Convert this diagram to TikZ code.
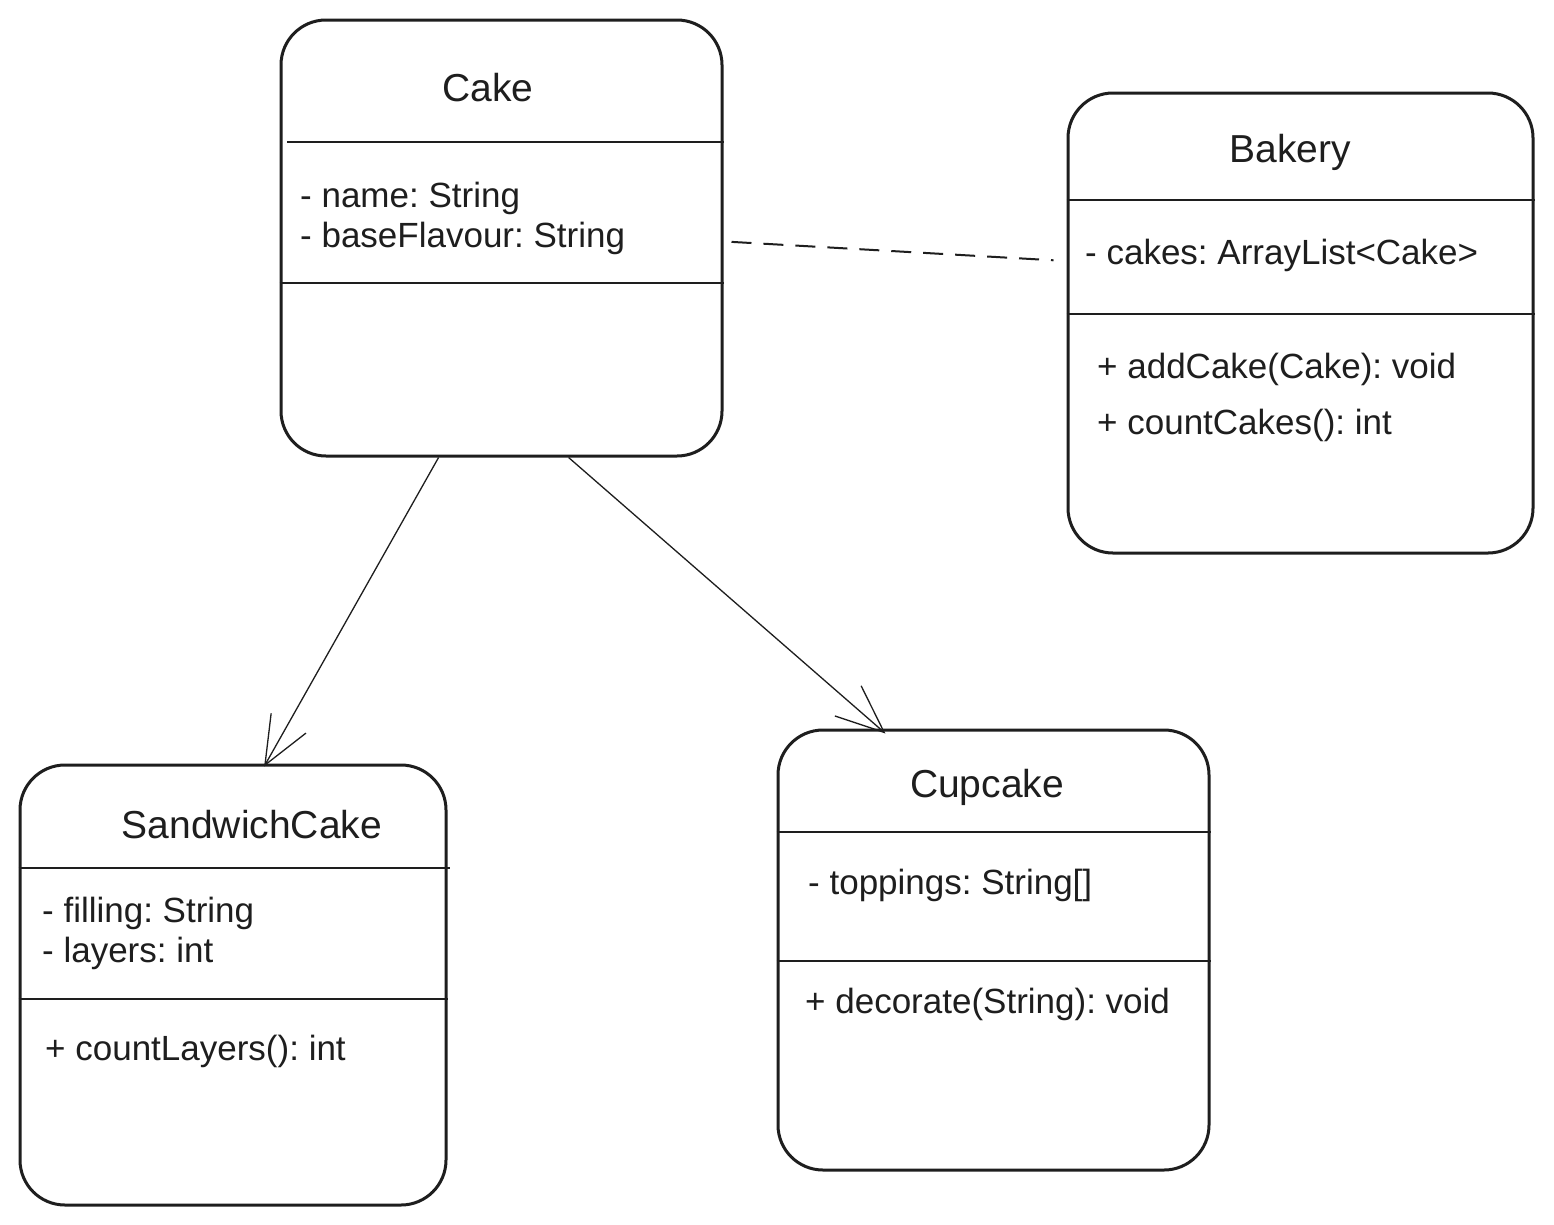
\documentclass[tikz,border=0pt]{standalone}
\usepackage{fontspec}
\setmainfont{Liberation Sans}
\usetikzlibrary{arrows.meta}
\definecolor{ink}{HTML}{1E1E1E}
\frenchspacing
\begin{document}
\begin{tikzpicture}[x=1pt,y=-1pt,
  classbox/.style={draw=ink, line width=3pt, rounded corners=45pt, inner sep=0pt, fill=white},
  divider/.style={draw=ink, line width=1.5pt},
  titletext/.style={anchor=base, inner sep=0pt, text=ink, font=\fontsize{39}{46}\selectfont},
  bodytext/.style={anchor=base west, inner sep=0pt, text=ink, font=\frenchspacing\fontsize{35}{40}\selectfont},
  inherit/.style={draw=ink, line width=1.3pt, -{Straight Barb[length=48pt,width=40pt,line width=1.3pt]}},
  assoc/.style={draw=ink, line width=2pt, dash pattern=on 20pt off 12pt}]
\useasboundingbox (0,0) rectangle (1554,1224);
\fill[white] (0,0) rectangle (1554,1224);

% Cake
\node[classbox, minimum width=441pt, minimum height=436pt] (cake) at (501.5,238) {};
\draw[divider] (287,142) -- (cake.east |- 0,142);
\draw[divider] (cake.west |- 0,283) -- (cake.east |- 0,283);
\node[titletext] (caketitle) at (488,101) {Cake};
\node[bodytext] (cakea1) at (300,207) {- name: String};
\node[bodytext] (cakea2) at (300,247) {- baseFlavour: String};

% Bakery
\node[classbox, minimum width=465pt, minimum height=460pt] (bakery) at (1300.5,323) {};
\draw[divider] (bakery.west |- 0,200) -- (bakery.east |- 0,200);
\draw[divider] (bakery.west |- 0,314) -- (bakery.east |- 0,314);
\node[titletext] (bakerytitle) at (1290,162) {Bakery};
\node[bodytext] (bakerya1) at (1085,264) {- cakes: ArrayList<Cake>};
\node[bodytext] (bakerym1) at (1097,378) {+ addCake(Cake): void};
\node[bodytext] (bakerym2) at (1097,434) {+ countCakes(): int};

% SandwichCake
\node[classbox, minimum width=426pt, minimum height=440pt] (sandwich) at (233,985) {};
\draw[divider] (sandwich.west |- 0,868) -- (450,868);
\draw[divider] (sandwich.west |- 0,999) -- (sandwich.east |- 0,999);
\node[titletext] (sandwichtitle) at (252,838) {SandwichCake};
\node[bodytext] (sandwicha1) at (42,922) {- filling: String};
\node[bodytext] (sandwicha2) at (42,962) {- layers: int};
\node[bodytext] (sandwichm1) at (45,1060) {+ countLayers(): int};

% Cupcake
\node[classbox, minimum width=431pt, minimum height=440pt] (cupcake) at (993.5,950) {};
\draw[divider] (cupcake.west |- 0,832) -- (cupcake.east |- 0,832);
\draw[divider] (cupcake.west |- 0,961) -- (cupcake.east |- 0,961);
\node[titletext] (cupcaketitle) at (987,797) {Cupcake};
\node[bodytext] (cupcakea1) at (808,894) {- toppings: String[]};
\node[bodytext] (cupcakem1) at (805,1013) {+ decorate(String): void};

% connectors
\draw[assoc] ([xshift=8pt]cake.-1) -- ([xshift=-13pt]bakery.165);
\draw[inherit] (cake.-106) -- ([yshift=-3pt]sandwich.82);
\draw[inherit] (cake.-73) -- ([yshift=-5pt]cupcake.116);
\end{tikzpicture}
\end{document}
